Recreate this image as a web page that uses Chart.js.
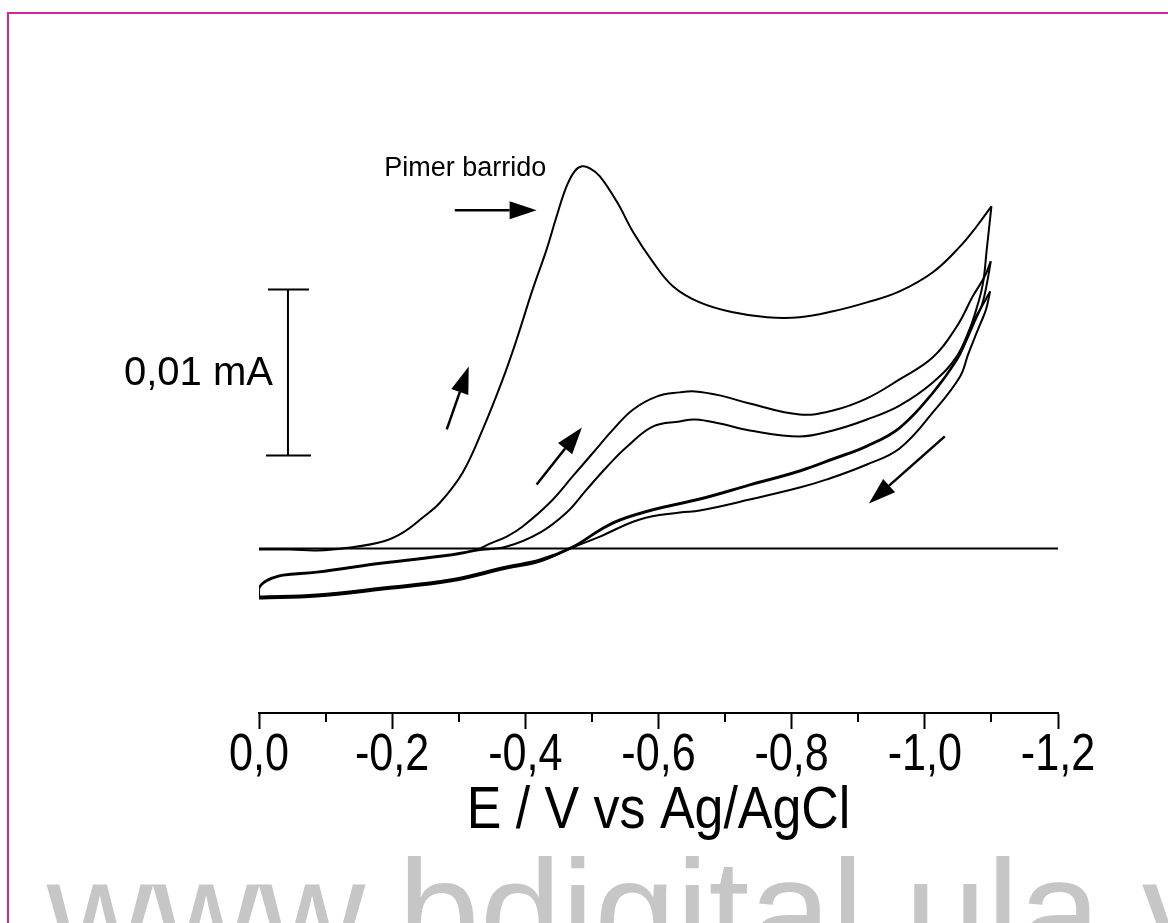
<!DOCTYPE html>
<html>
<head>
<meta charset="utf-8">
<script src="https://cdn.jsdelivr.net/npm/chart.js@4/dist/chart.umd.min.js"></script>
<style>
html, body { margin: 0; padding: 0; background: #fff; overflow: hidden; }
#wrap { position: relative; width: 1168px; height: 923px; }
#frame { position: absolute; left: 7px; top: 12px; width: 1200px; height: 1000px; border-top: 2px solid #d4259e; border-left: 2px solid #d4259e; pointer-events: none; }
canvas { position: absolute; left: 0; top: 0; }
</style>
</head>
<body>
<div id="wrap">
<canvas id="myChart" width="1168" height="923"></canvas>
<div id="frame"></div>
</div>
<script>
// potential (V vs Ag/AgCl) and current (uA), one array pair per sweep
var fwd1E = [0, -0.047, -0.087, -0.137, -0.186, -0.216, -0.246, -0.272, -0.306, -0.336, -0.366, -0.387, -0.411, -0.432, -0.447, -0.462, -0.474, -0.485, -0.497, -0.512, -0.538, -0.562, -0.592, -0.622, -0.662, -0.712, -0.763, -0.812, -0.862, -0.913, -0.962, -1.012, -1.053, -1.078, -1.100];
var fwd1I = [-0.06, -0.06, -0.12, 0.06, 0.42, 0.96, 1.87, 2.77, 4.58, 7.17, 10.18, 12.59, 15.60, 18.01, 20.00, 21.81, 22.71, 23.01, 22.89, 22.41, 20.84, 19.04, 17.23, 15.78, 14.82, 14.22, 13.92, 13.92, 14.28, 14.82, 15.48, 16.63, 18.19, 19.40, 20.60];

var rev1E = [-1.100, -1.093, -1.087, -1.075, -1.062, -1.048, -1.012, -0.962, -0.913, -0.862, -0.812, -0.737, -0.662, -0.602, -0.542, -0.512, -0.471, -0.422, -0.372, -0.287, -0.186, -0.087, 0];
var rev1I = [20.60, 18.01, 15.90, 14.10, 12.59, 11.39, 9.40, 7.29, 6.20, 5.42, 4.70, 3.86, 3.01, 2.47, 1.75, 1.14, 0.12, -0.66, -1.08, -1.87, -2.35, -2.77, -2.89];

var fwd2E = [0, 0, -0.008, -0.020, -0.036, -0.087, -0.186, -0.287, -0.327, -0.347, -0.372, -0.396, -0.437, -0.471, -0.502, -0.532, -0.562, -0.598, -0.632, -0.655, -0.692, -0.737, -0.812, -0.862, -0.913, -0.962, -1.012, -1.048, -1.072, -1.090, -1.099];
var fwd2I = [-2.89, -2.35, -1.99, -1.75, -1.57, -1.39, -0.84, -0.36, -0.06, 0.30, 0.72, 1.33, 2.77, 4.34, 5.78, 7.17, 8.37, 9.16, 9.40, 9.46, 9.22, 8.73, 8.07, 8.31, 9.04, 10.18, 11.51, 13.37, 15.18, 16.39, 17.29];

var rev2E = [-1.099, -1.093, -1.086, -1.075, -1.062, -1.048, -1.012, -0.962, -0.913, -0.862, -0.812, -0.737, -0.662, -0.602, -0.542, -0.512, -0.471, -0.422, -0.372, -0.287, -0.186, -0.087, 0];
var rev2I = [17.29, 15.90, 14.70, 13.67, 12.47, 11.33, 9.34, 7.23, 6.14, 5.36, 4.64, 3.80, 2.95, 2.41, 1.69, 1.08, 0.06, -0.72, -1.14, -1.93, -2.41, -2.83, -2.95];

var fwd3E = [0, 0, -0.008, -0.020, -0.036, -0.087, -0.186, -0.287, -0.327, -0.372, -0.422, -0.462, -0.492, -0.523, -0.553, -0.592, -0.632, -0.655, -0.692, -0.737, -0.812, -0.862, -0.913, -0.962, -1.012, -1.048, -1.072, -1.090, -1.098];
var fwd3I = [-2.95, -2.41, -2.05, -1.81, -1.63, -1.45, -0.90, -0.42, -0.12, 0.12, 0.96, 2.17, 3.55, 4.94, 6.14, 7.35, 7.65, 7.77, 7.53, 7.11, 6.75, 7.11, 7.77, 8.61, 10.00, 11.57, 13.61, 14.88, 15.48];

var rev3E = [-1.098, -1.092, -1.083, -1.078, -1.065, -1.053, -1.012, -0.962, -0.913, -0.853, -0.812, -0.737, -0.662, -0.632, -0.572, -0.512, -0.471, -0.422, -0.372, -0.287, -0.186, -0.087, 0];
var rev3I = [15.48, 14.40, 13.49, 13.01, 11.69, 10.36, 8.19, 6.02, 5.06, 4.16, 3.67, 2.95, 2.29, 2.17, 1.75, 0.72, 0.06, -0.78, -1.20, -1.99, -2.47, -2.89, -3.01];

// zero current line
var baseE = [0, -1.2];
var baseI = [0, 0];

var xTicks = [0, -0.2, -0.4, -0.6, -0.8, -1.0, -1.2];
var xTickLabels = ['0,0', '-0,2', '-0,4', '-0,6', '-0,8', '-1,0', '-1,2'];
var xMinorTicks = [-0.1, -0.3, -0.5, -0.7, -0.9, -1.1];
var xTitle = 'E / V vs Ag/AgCl';

// annotations, in data units
var scaleBarE = -0.0435;
var scaleBarTop = 15.6;
var scaleBarBottom = 5.6;
var scaleBarLabel = '0,01 mA';
var firstScanLabel = 'Pimer barrido';
var arrows = [
    [-0.294, 20.36, -0.417, 20.36],
    [-0.282, 7.17, -0.315, 10.96],
    [-0.417, 3.86, -0.485, 7.29],
    [-1.030, 6.75, -0.916, 2.71]
];

function toPoints(es, is) {
    return es.map(function (e, k) { return { x: e, y: is[k] }; });
}

function sweep(es, is) {
    return {
        data: toPoints(es, is),
        showLine: true,
        borderColor: '#000',
        borderWidth: 2,
        pointRadius: 0,
        tension: 0.4,
        fill: false
    };
}

function drawArrow(ctx, x1, y1, x2, y2) {
    var ang = Math.atan2(y2 - y1, x2 - x1);
    var len = 27, half = 9;
    var bx = x2 - len * Math.cos(ang), by = y2 - len * Math.sin(ang);
    ctx.beginPath();
    ctx.moveTo(x1, y1);
    ctx.lineTo(bx, by);
    ctx.lineWidth = 2.5;
    ctx.strokeStyle = '#000';
    ctx.stroke();
    ctx.beginPath();
    ctx.moveTo(x2, y2);
    ctx.lineTo(bx + half * Math.sin(ang), by - half * Math.cos(ang));
    ctx.lineTo(bx - half * Math.sin(ang), by + half * Math.cos(ang));
    ctx.closePath();
    ctx.fillStyle = '#000';
    ctx.fill();
}

// the original lettering is a condensed sans, so squeeze it horizontally
function narrowText(ctx, text, x, y, squeeze) {
    ctx.save();
    ctx.translate(x, y);
    ctx.scale(squeeze, 1);
    ctx.fillText(text, 0, 0);
    ctx.restore();
}

var extras = {
    id: 'extras',
    afterDraw: function (chart) {
        var ctx = chart.ctx;
        var xs = chart.scales.x, ys = chart.scales.y;
        var axisY = chart.chartArea.bottom;
        ctx.save();

        // minor ticks on the potential axis
        ctx.strokeStyle = '#000';
        ctx.lineWidth = 2;
        xMinorTicks.forEach(function (v) {
            var px = Math.round(xs.getPixelForValue(v));
            ctx.beginPath();
            ctx.moveTo(px, axisY);
            ctx.lineTo(px, axisY + 9);
            ctx.stroke();
        });

        // tick labels and axis title
        ctx.fillStyle = '#000';
        ctx.textAlign = 'center';
        ctx.textBaseline = 'alphabetic';
        ctx.font = '52px "Liberation Sans", Arial, sans-serif';
        xTicks.forEach(function (v, k) {
            narrowText(ctx, xTickLabels[k], xs.getPixelForValue(v), axisY + 57, 0.83);
        });
        ctx.font = '60px "Liberation Sans", Arial, sans-serif';
        narrowText(ctx, xTitle, (xs.left + xs.right) / 2, axisY + 115, 0.865);

        // current scale bar
        var sx = xs.getPixelForValue(scaleBarE);
        var sTop = ys.getPixelForValue(scaleBarTop);
        var sBot = ys.getPixelForValue(scaleBarBottom);
        ctx.lineWidth = 2;
        ctx.beginPath();
        ctx.moveTo(sx, sTop); ctx.lineTo(sx, sBot);
        ctx.moveTo(sx - 20, sTop); ctx.lineTo(sx + 21, sTop);
        ctx.moveTo(sx - 22, sBot); ctx.lineTo(sx + 23, sBot);
        ctx.stroke();

        ctx.font = '40px "Liberation Sans", Arial, sans-serif';
        ctx.textAlign = 'right';
        ctx.textBaseline = 'middle';
        ctx.fillText(scaleBarLabel, sx - 15, (sTop + sBot) / 2 + 2);

        ctx.font = '27px "Liberation Sans", Arial, sans-serif';
        ctx.textAlign = 'left';
        ctx.textBaseline = 'alphabetic';
        ctx.fillText(firstScanLabel, xs.getPixelForValue(-0.188), ys.getPixelForValue(22.41));

        arrows.forEach(function (a) {
            drawArrow(ctx, xs.getPixelForValue(a[0]), ys.getPixelForValue(a[1]),
                xs.getPixelForValue(a[2]), ys.getPixelForValue(a[3]));
        });

        // site watermark
        ctx.font = '147px "Liberation Sans", Arial, sans-serif';
        ctx.fillStyle = '#c6c6c6';
        ctx.textAlign = 'left';
        ctx.textBaseline = 'alphabetic';
        var pre = ctx.measureText('www.').width;
        ctx.fillText('www.bdigital.ula.ve', 398 - pre, 962);

        ctx.restore();
    }
};

var ctx = document.getElementById('myChart').getContext('2d');
var chart = new Chart(ctx, {
    type: 'scatter',
    data: {
        datasets: [
            sweep(baseE, baseI),
            sweep(fwd1E, fwd1I),
            sweep(rev1E, rev1I),
            sweep(fwd2E, fwd2I),
            sweep(rev2E, rev2I),
            sweep(fwd3E, fwd3I),
            sweep(rev3E, rev3I)
        ]
    },
    options: {
        responsive: false,
        animation: false,
        events: [],
        layout: { padding: { left: 259, right: 110, top: 100, bottom: 85 } },
        plugins: { legend: { display: false }, tooltip: { enabled: false } },
        scales: {
            x: {
                type: 'linear',
                min: -1.2,
                max: 0,
                reverse: true,
                afterBuildTicks: function (scale) {
                    scale.ticks = xTicks.map(function (v) { return { value: v }; });
                },
                afterFit: function (scale) { scale.height = 125; },
                ticks: {
                    color: 'rgba(0,0,0,0)',
                    font: { size: 20 },
                    maxRotation: 0,
                    autoSkip: false,
                    callback: function (value) {
                        var k = xTicks.findIndex(function (t) { return Math.abs(t - value) < 1e-6; });
                        return k >= 0 ? xTickLabels[k] : '';
                    }
                },
                grid: { drawOnChartArea: false, drawTicks: true, tickLength: 16, tickWidth: 2, tickColor: '#000' },
                border: { display: true, color: '#000', width: 2 },
                title: { display: false }
            },
            y: {
                type: 'linear',
                min: -9.9,
                max: 27,
                display: false
            }
        }
    },
    plugins: [extras]
});
</script>
</body>
</html>
